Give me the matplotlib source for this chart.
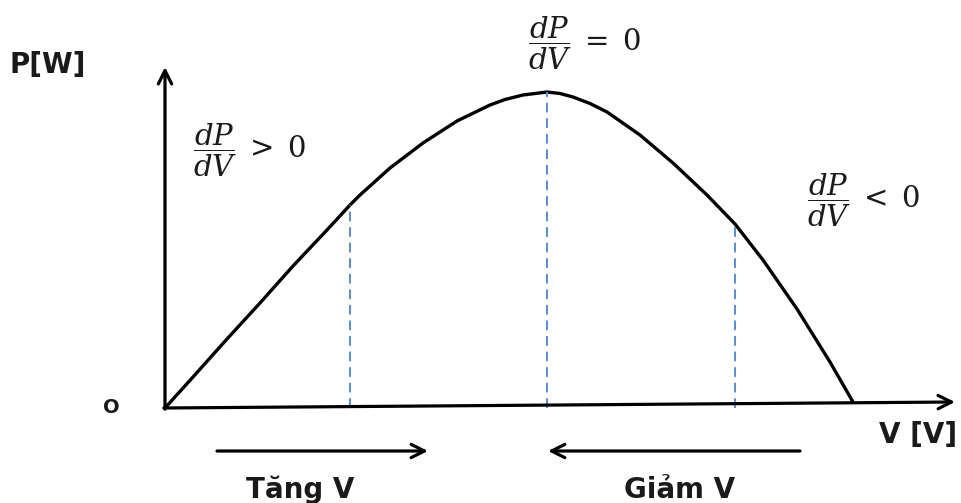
import matplotlib
matplotlib.use("Agg")
from matplotlib import pyplot as plt

plt.rcParams['mathtext.fontset'] = 'dejavuserif'

# P-V curve of the panel (arbitrary units)
voltage = [0, 28, 62, 95, 128, 162, 185, 195, 225, 258, 292, 325, 340, 358, 382,
           395, 408, 425, 442, 475, 508, 542, 570, 598, 632, 665, 688]
power = [0, 31, 69, 105, 142, 178, 203, 213, 240, 265, 287, 303, 308.5, 313, 316,
         314.5, 311, 304.5, 296, 273, 245, 213, 184, 148, 99, 46, 6]

# operating points marked with dashed lines
mark_v = [185, 382, 570]
mark_p = [203, 316, 184]

fig = plt.figure(figsize=(9.61, 5.03), dpi=100)
ax = fig.add_axes([0, 0, 1, 1])
ax.set_xlim(-165, 796)
ax.set_ylim(-95, 408)
ax.axis("off")

ink = "#1a1a1a"

# axes with arrow heads
arrow = dict(arrowstyle="->", lw=2.3, color="black", mutation_scale=24, shrinkA=0, shrinkB=0)
ax.annotate("", xy=(0, 341), xytext=(0, -1.2), arrowprops=arrow)
ax.annotate("", xy=(790, 6), xytext=(-1.2, 0), arrowprops=arrow)

ax.plot(voltage, power, color="black", lw=2.4, solid_capstyle="round", solid_joinstyle="round")
for v, p in zip(mark_v, mark_p):
    ax.plot([v, v], [0, p], color="#5b8bd0", lw=1.4, ls=(0, (5, 3)))

ax.text(-155, 335, "P[W]", fontsize=20, fontweight="bold", color=ink, ha="left", va="baseline")
ax.text(-62, -5, "O", fontsize=14, fontweight="bold", color=ink, ha="left", va="baseline")
ax.text(792, -35, "V [V]", fontsize=20, fontweight="bold", color=ink, ha="right", va="baseline")

ax.text(28, 258, r"$\dfrac{dP}{dV}\;>\;0$", fontsize=21, color=ink, ha="left", va="center")
ax.text(363, 365, r"$\dfrac{dP}{dV}\;=\;0$", fontsize=21, color=ink, ha="left", va="center")
ax.text(642, 208, r"$\dfrac{dP}{dV}\;<\;0$", fontsize=21, color=ink, ha="left", va="center")

# direction of the voltage perturbation
ax.annotate("", xy=(263, -43), xytext=(52, -43), arrowprops=arrow)
ax.annotate("", xy=(383, -43), xytext=(635, -43), arrowprops=arrow)
ax.text(135, -90, "Tăng V", fontsize=20, fontweight="bold", color=ink, ha="center", va="baseline")
ax.text(515, -90, "Giảm V", fontsize=20, fontweight="bold", color=ink, ha="center", va="baseline")

fig.savefig("out.png", dpi=100)
